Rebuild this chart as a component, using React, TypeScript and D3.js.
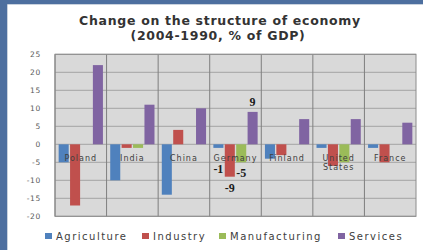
import React from 'react';
import * as d3 from 'd3';

const countries = ['Poland', 'India', 'China', 'Germany', 'Finland', 'United States', 'France'];
const seriesNames = ['Agriculture', 'Industry', 'Manufacturing', 'Services'];
const seriesColors = ['#4f81bd', '#c0504d', '#9bbb59', '#8064a2'];

const agriculture = [-5, -10, -14, -1, -4, -1, -1];
const industry = [-17, -1, 4, -9, -3, -6, -5];
const manufacturing = [0, -1, 0, -5, 0, -5, 0];
const services = [22, 11, 10, 9, 7, 7, 6];

const yTicks = [-20, -15, -10, -5, 0, 5, 10, 15, 20, 25];

// only Germany carries value labels in the original
const labelCountry = 'Germany';

export default function App() {
  const W = 423;
  const H = 250;
  const plot = { left: 55, right: 416, top: 54.3, bottom: 216.3 };

  const values = [agriculture, industry, manufacturing, services];

  const x = d3.scaleBand<string>().domain(countries).range([plot.left, plot.right]);
  const xs = d3
    .scaleBand<string>()
    .domain(seriesNames)
    .range([0, x.bandwidth()])
    .paddingInner(0.12)
    .paddingOuter(0.32);
  const y = d3.scaleLinear().domain([-20, 25]).range([plot.bottom, plot.top]);

  const legendX = [45, 142, 219, 338];

  // offsets of the Germany labels below/above bar ends (hand placed in original)
  const labelDy = [25, 15, 15, -6];

  return (
    <svg
      width={W}
      height={H}
      style={{ position: 'absolute', left: 0, top: 0, display: 'block' }}
      fontFamily="'DejaVu Sans', sans-serif"
    >
      <rect x={0} y={0} width={W} height={H} fill="#4d6f9f" />
      <rect x={8} y={5} width={W - 8} height={H - 5} fill="#ffffff" />
      <line x1={7.5} x2={7.5} y1={4.5} y2={H} stroke="#c9d2de" />
      <line x1={7.5} x2={W} y1={4.5} y2={4.5} stroke="#c9d2de" />

      <text
        x={220}
        y={25}
        textAnchor="middle"
        fontSize={12.5}
        fontWeight="bold"
        letterSpacing={0.7}
        fill="#333"
      >
        Change on the structure of economy
      </text>
      <text
        x={218}
        y={40}
        textAnchor="middle"
        fontSize={12.5}
        fontWeight="bold"
        letterSpacing={0.7}
        fill="#333"
      >
        (2004-1990, % of GDP)
      </text>

      <rect
        x={plot.left}
        y={plot.top}
        width={plot.right - plot.left}
        height={plot.bottom - plot.top}
        fill="#d9d9d9"
      />
      {yTicks.map((t) => (
        <g key={t}>
          <line x1={plot.left} x2={plot.right} y1={y(t)} y2={y(t)} stroke="#a3a3a3" strokeWidth={1} />
          <text
            x={41}
            y={y(t) + 2.5}
            textAnchor="end"
            fontSize={7.5}
            letterSpacing={0.7}
            fill="#595959"
          >
            {t}
          </text>
        </g>
      ))}
      {countries.map((c, i) => (
        <line
          key={c}
          x1={x(c)!}
          x2={x(c)!}
          y1={plot.top}
          y2={plot.bottom}
          stroke="#7f7f7f"
          strokeWidth={1}
        />
      ))}
      <rect
        x={plot.left}
        y={plot.top}
        width={plot.right - plot.left}
        height={plot.bottom - plot.top}
        fill="none"
        stroke="#8c8c8c"
        strokeWidth={1}
      />

      {countries.map((c, i) => (
        <g key={c} transform={`translate(${x(c)},0)`}>
          {seriesNames.map((s, j) => {
            const v = values[j][i];
            if (v === 0) return null;
            return (
              <rect
                key={s}
                x={xs(s)}
                y={Math.min(y(v), y(0))}
                width={xs.bandwidth()}
                height={Math.abs(y(v) - y(0))}
                fill={seriesColors[j]}
              />
            );
          })}
        </g>
      ))}

      {countries.map((c) => {
        const cx = x(c)! + x.bandwidth() / 2;
        const parts = c === 'United States' ? ['United', 'States'] : [c];
        return (
          <text
            key={c}
            x={cx}
            y={161}
            textAnchor="middle"
            fontSize={8}
            letterSpacing={1}
            fill="#404040"
          >
            {parts.map((p, k) => (
              <tspan key={p} x={cx} dy={k === 0 ? 0 : 9}>
                {p}
              </tspan>
            ))}
          </text>
        );
      })}

      {seriesNames.map((s, j) => {
        const i = countries.indexOf(labelCountry);
        const v = values[j][i];
        const bx = x(labelCountry)! + xs(s)! + xs.bandwidth() / 2;
        return (
          <text
            key={s}
            x={bx}
            y={y(v) + labelDy[j]}
            textAnchor="middle"
            fontSize={12}
            fontWeight="bold"
            fontFamily="'Liberation Serif', serif"
            fill="#1a1a1a"
          >
            {v}
          </text>
        );
      })}

      {seriesNames.map((s, j) => (
        <g key={s}>
          <rect x={legendX[j]} y={233} width={7} height={6} fill={seriesColors[j]} />
          <text x={legendX[j] + 11} y={239.5} fontSize={10} letterSpacing={1.5} fill="#404040">
            {s}
          </text>
        </g>
      ))}
    </svg>
  );
}
